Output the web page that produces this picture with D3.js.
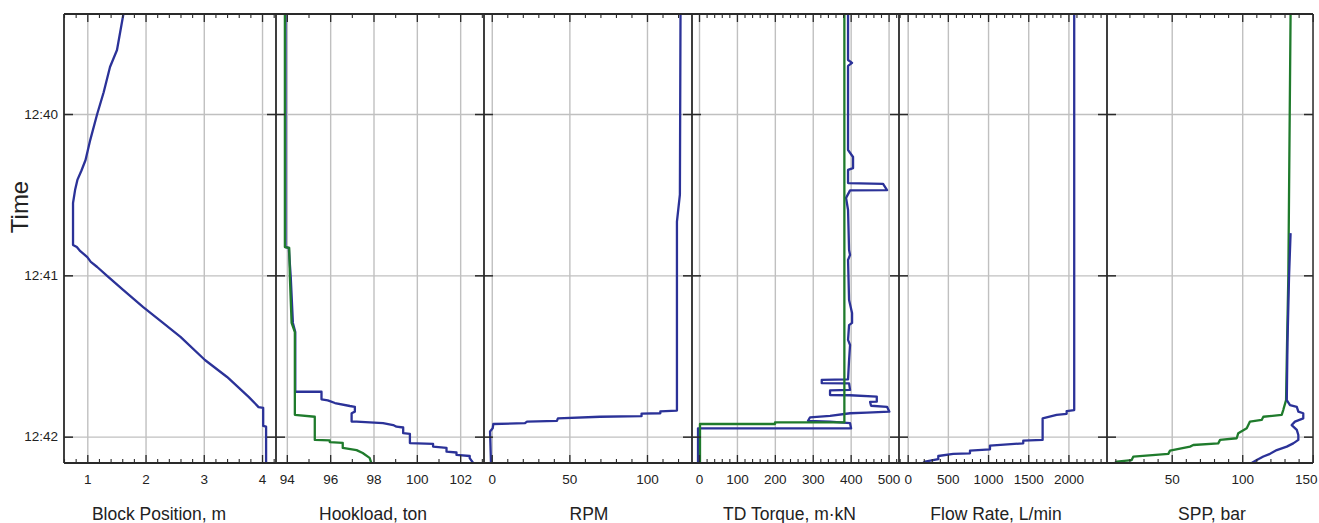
<!DOCTYPE html>
<html><head><meta charset="utf-8">
<script src="https://cdn.jsdelivr.net/npm/d3@7"></script>
<style>
body{margin:0;background:#fff}
svg{display:block}
text{font-family:"Liberation Sans",Arial,Helvetica,sans-serif;fill:#222}
</style>
</head><body>
<svg id="c" width="1319" height="523"></svg>
<script>
// ---------- DATA (time = seconds after 12:40:00) ----------
const timeTicks = ["12:40", "12:41", "12:42"];
const timeRange = [-37.2, 129.8];

const blockTicks  = [1, 2, 3, 4];
const hookTicks   = [94, 96, 98, 100, 102];
const rpmTicks    = [0, 50, 100];
const torqueTicks = [0, 100, 200, 300, 400, 500];
const flowTicks   = [0, 500, 1000, 1500, 2000];
const sppTicks    = [50, 100, 150];

const blockSec = [-37.2,-23.8,-17.5,-8,0,9.7,17.1,21,24.5,28.3,33.1,48.7,49.5,51,53.2,55,56.9,60.2,65.5,71.8,77.7,82.9,91.5,97.8,105.2,109,109.3,116,116.3,129.8];
const blockPos = [1.62,1.51,1.39,1.28,1.17,1.05,0.97,0.9,0.83,0.79,0.755,0.755,0.82,0.88,1.0,1.06,1.17,1.34,1.62,1.96,2.30,2.60,3.02,3.40,3.77,3.94,4.02,4.02,4.07,4.07];

const hookBlueSec = [-37.2,49.5,49.8,60.6,77.7,81.1,103.3,103.3,106.1,106.5,107.5,108.6,108.9,110.7,111.3,114.4,114.4,115.0,115.7,116.3,116.6,118.7,119.0,122.4,122.7,123.7,124.2,125.6,125.9,126.8,127.2,128.0,129.8];
const hookBlue    = [93.94,93.94,94.09,94.18,94.28,94.39,94.39,95.60,95.60,95.89,96.22,96.91,97.14,97.14,96.99,96.99,97.22,98.44,98.91,99.06,99.37,99.37,99.68,99.68,100.75,100.75,101.37,101.37,101.83,101.83,102.44,102.44,102.60];
const hookGreenSec = [-37.2,49.5,49.8,60.6,77.7,81.1,111.9,112.6,121.2,121.4,122.0,122.3,124.2,125.0,126.1,127.9,129.8];
const hookGreen    = [93.91,93.91,94.11,94.14,94.22,94.37,94.37,95.29,95.29,95.98,95.98,96.58,96.58,97.22,97.5,97.82,97.9];

const rpmSec = [-37.2,30,40,110.3,110.6,111.3,111.4,112.4,112.6,113.2,114.1,114.4,115.0,115.3,116.9,118.1,129.8];
const rpmVal = [121.6,121.2,119.3,119.3,108.6,108.6,96.5,96.5,69.8,42.6,42.0,22.7,21.4,1.0,0.6,-1.1,-0.5];

const torqueBlueSec = [-37.2,-20.1,-19.0,-17.9,13.4,16.0,20.1,20.8,25.7,26.0,28.3,28.4,31.2,35.7,50.6,52.4,54.3,69.2,74.0,77.7,78.5,84.0,85.9,91.5,98.7,98.9,100.1,100.2,102.6,102.8,104.5,104.6,105.1,107.0,107.1,108.5,108.9,110.7,111.1,111.3,112.3,112.8,114.1,114.4,115.0,116.9,116.9,129.8];
const torqueBlue    = [393.1,393.1,403.7,393.1,393.1,406.3,406.3,393.1,393.1,485.5,496.0,398.4,387.9,393.1,395.8,398.4,393.1,395.8,403.7,403.7,395.8,393.1,398.4,395.8,393.1,323.7,323.7,395.8,398.4,345.6,345.6,398.4,468.9,468.9,451.2,453.8,496.0,502.1,442.5,398.4,345.6,292.9,287.6,345.6,398.4,401.1,-2.6,-2.6];
const torqueGreenSec = [-37.2,114.7,114.7,115.3,115.3,129.8];
const torqueGreen    = [383.4,383.4,200.5,200.5,2.6,2.6];

const flowSec = [-37.2,110.1,110.5,111.5,111.9,113.2,121.2,121.5,122.5,123.3,124.7,125.2,126.2,126.4,127.2,128.4,129.3,129.8];
const flowVal = [2072,2072,1978,1978,1853,1679,1679,1438,1438,1024,1024,775,775,567,381,381,215,194];

const sppGreenSec = [-37.2,60.6,85.2,106.4,110.1,111.9,112.6,113.8,114.4,116.9,118.7,120.6,121.2,122.5,123.1,123.7,125.2,126.4,127.4,128.7,129.3,129.8];
const sppGreen    = [134.3,132.7,131.8,131.1,129.1,128.0,115.0,113.8,105.5,103.2,97.2,96.1,84.3,83.0,65.3,63.0,48.8,47.6,22.8,21.6,11.0,9.8];
const sppBlueSec = [44.3,60.6,85.2,106.4,108.3,108.9,110.7,111.3,113.2,114.4,115.7,117.5,119.4,121.2,122.5,123.7,125.0,126.4,127.4,128.7,129.8];
const sppBlue    = [134.3,133.2,132.1,131.6,133.9,138.7,139.8,143.3,143.3,137.4,135.1,138.7,139.8,139.8,136.2,131.6,124.5,119.7,115.0,110.3,106.7];

// ---------- STYLE / LAYOUT ----------
const BLUE = "#2b3298", GREEN = "#1f7b2c", GRID = "#c0c0c0", AXIS = "#2a2a2a";
const TOP = 14, BOTTOM = 463, W = 1319;
const edges = [64, 276, 484, 692, 899, 1107, 1313];
const FONT = '"Liberation Sans",Arial,Helvetica,sans-serif';

const panels = [
  {title:"Block Position, m", domain:[0.6,4.24], ticks:blockTicks, minor:0.2, dx:-11,
   series:[{sec:blockSec, val:blockPos, color:BLUE}]},
  {title:"Hookload, ton", domain:[93.5,103.1], ticks:hookTicks, minor:1, dx:-7,
   series:[{sec:hookBlueSec, val:hookBlue, color:BLUE},{sec:hookGreenSec, val:hookGreen, color:GREEN}]},
  {title:"RPM", domain:[-5,129], ticks:rpmTicks, minor:10, dx:1,
   series:[{sec:rpmSec, val:rpmVal, color:BLUE}]},
  {title:"TD Torque, m\u00b7kN", domain:[-18.5,527.5], ticks:torqueTicks, minor:20, dx:-6,
   series:[{sec:torqueBlueSec, val:torqueBlue, color:BLUE},{sec:torqueGreenSec, val:torqueGreen, color:GREEN}]},
  {title:"Flow Rate, L/min", domain:[-108,2480], ticks:flowTicks, minor:100, dx:-7,
   series:[{sec:flowSec, val:flowVal, color:BLUE}]},
  {title:"SPP, bar", domain:[4.1,150.2], ticks:sppTicks, minor:10, dx:2,
   series:[{sec:sppGreenSec, val:sppGreen, color:GREEN},{sec:sppBlueSec, val:sppBlue, color:BLUE}]}
];

// ---------- DRAW ----------
const svg = d3.select("#c");
svg.append("rect").attr("width",W).attr("height",523).attr("fill","#fff");

const parseHM = d3.timeParse("%H:%M");
const base = parseHM("12:40");
const toDate = s => new Date(+base + s*1000);
const y = d3.scaleTime().domain(timeRange.map(toDate)).range([TOP, BOTTOM]);
const yTicks = timeTicks.map(parseHM);

const defs = svg.append("defs");

function styleTicks(sel, w){
  sel.select(".domain").remove();
  sel.selectAll(".tick line").attr("stroke", AXIS).attr("stroke-width", w||1.3);
}

panels.forEach((p,i)=>{
  const x0 = edges[i], x1 = edges[i+1];
  const x = d3.scaleLinear().domain(p.domain).range([x0, x1]);
  const inDom = v => v >= p.domain[0]-1e-9 && v <= p.domain[1]+1e-9;
  const major = p.ticks.filter(inDom);
  const minor = d3.range(Math.ceil(p.domain[0]/p.minor), Math.floor(p.domain[1]/p.minor)+1)
     .map(k => +(k*p.minor).toFixed(6))
     .filter(v => !major.some(m => Math.abs(m-v) < 1e-6));
  const g = svg.append("g");

  // vertical grid
  g.append("g").attr("transform",`translate(0,${BOTTOM})`)
    .call(d3.axisBottom(x).tickValues(major).tickSize(-(BOTTOM-TOP)).tickFormat(""))
    .call(a=>{a.select(".domain").remove();
      a.selectAll(".tick line").attr("stroke",GRID).attr("stroke-width",1.4);});
  // horizontal grid
  g.append("g").attr("transform",`translate(${x0},0)`)
    .call(d3.axisLeft(y).tickValues(yTicks).tickSize(-(x1-x0)).tickFormat(""))
    .call(a=>{a.select(".domain").remove();
      a.selectAll(".tick line").attr("stroke",GRID).attr("stroke-width",1.4);});

  // clip
  const cid = "clip"+i;
  defs.append("clipPath").attr("id",cid).append("rect")
    .attr("x",x0).attr("y",TOP).attr("width",x1-x0).attr("height",BOTTOM-TOP);

  const line = d3.line().x(d=>x(d.v)).y(d=>y(d.t));
  const lg = g.append("g").attr("clip-path",`url(#${cid})`);
  p.series.forEach(s=>{
    const pts = s.sec.map((t,k)=>({t:toDate(t), v:s.val[k]}));
    lg.append("path").datum(pts).attr("d",line)
      .attr("fill","none").attr("stroke",s.color)
      .attr("stroke-width",2.3).attr("stroke-linejoin","round").attr("stroke-linecap","butt");
  });

  // bottom axis (inward ticks)
  const bAx = g.append("g").attr("transform",`translate(0,${BOTTOM})`)
    .call(d3.axisBottom(x).tickValues(major).tickSize(-8).tickPadding(11).tickFormat(d3.format("")))
    .call(a=>styleTicks(a));
  bAx.selectAll("text").attr("font-size","13.5px").attr("fill","#222").attr("font-family",FONT)
    .each(function(){
      const len = this.getComputedTextLength();
      const tx = x(d3.select(this).datum());
      const over = tx + len/2 - (W-2);
      if (over > 0) d3.select(this).attr("x", -over);
    });
  g.append("g").attr("transform",`translate(0,${BOTTOM})`)
    .call(d3.axisBottom(x).tickValues(minor).tickSize(-4).tickFormat(""))
    .call(a=>styleTicks(a,1.1));
  // top axis
  g.append("g").attr("transform",`translate(0,${TOP})`)
    .call(d3.axisTop(x).tickValues(major).tickSize(-8).tickFormat(""))
    .call(a=>styleTicks(a));
  g.append("g").attr("transform",`translate(0,${TOP})`)
    .call(d3.axisTop(x).tickValues(minor).tickSize(-4).tickFormat(""))
    .call(a=>styleTicks(a,1.1));
  // left / right y ticks (inward)
  const lAx = g.append("g").attr("transform",`translate(${x0},0)`)
    .call(d3.axisLeft(y).tickValues(yTicks).tickSize(-9).tickPadding(6)
      .tickFormat(i===0 ? d3.timeFormat("%H:%M") : ""))
    .call(a=>styleTicks(a,1.5));
  lAx.selectAll("text").attr("font-size","13.5px").attr("fill","#222").attr("font-family",FONT);
  g.append("g").attr("transform",`translate(${x1},0)`)
    .call(d3.axisRight(y).tickValues(yTicks).tickSize(-9).tickFormat(""))
    .call(a=>styleTicks(a,1.5));

  // left border
  g.append("line").attr("x1",x0).attr("x2",x0).attr("y1",TOP).attr("y2",BOTTOM)
    .attr("stroke",AXIS).attr("stroke-width",1.8);

  // title
  svg.append("text").attr("x",(x0+x1)/2 + p.dx).attr("y",520)
    .attr("text-anchor","middle").attr("font-size","17.5px").text(p.title);
});

// frame
svg.append("line").attr("x1",edges[0]).attr("x2",edges[edges.length-1]).attr("y1",TOP).attr("y2",TOP)
  .attr("stroke",AXIS).attr("stroke-width",1.8);
svg.append("line").attr("x1",edges[0]).attr("x2",edges[edges.length-1]).attr("y1",BOTTOM).attr("y2",BOTTOM)
  .attr("stroke",AXIS).attr("stroke-width",1.8);
svg.append("line").attr("x1",edges[edges.length-1]).attr("x2",edges[edges.length-1]).attr("y1",TOP).attr("y2",BOTTOM)
  .attr("stroke",AXIS).attr("stroke-width",1.4);

// y title
svg.append("text").attr("transform","translate(28,207) rotate(-90)")
  .attr("text-anchor","middle").attr("font-size","24px").text("Time");
</script>
</body></html>
